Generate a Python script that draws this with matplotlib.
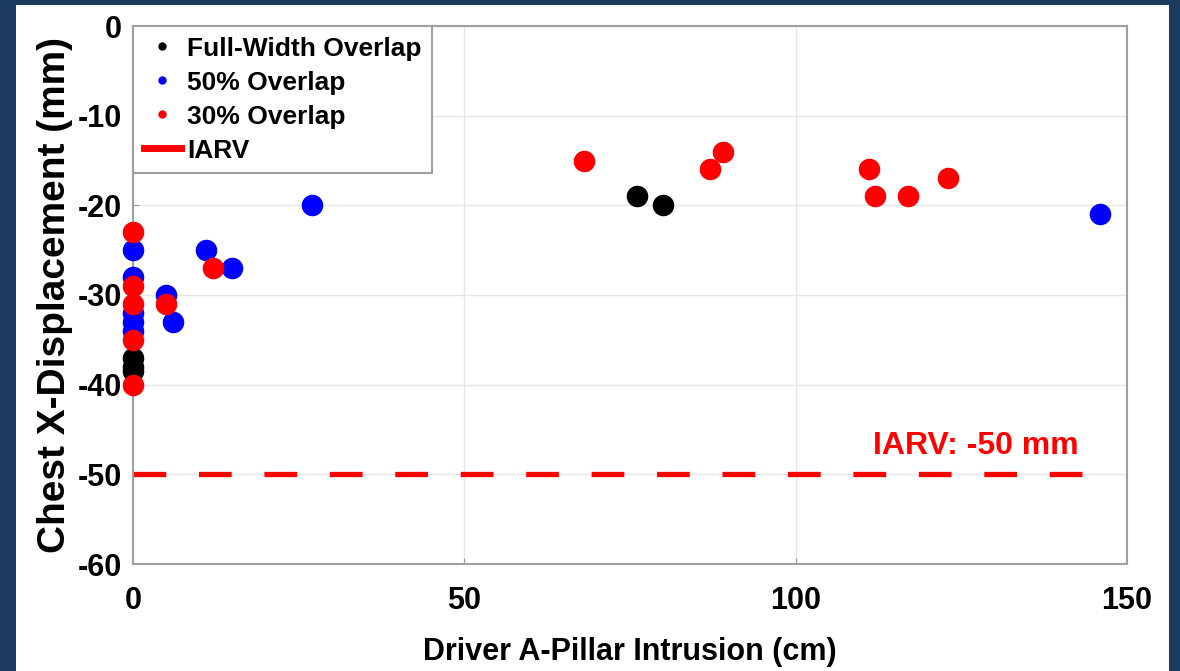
import matplotlib.pyplot as plt
from matplotlib.lines import Line2D
from matplotlib.patches import Rectangle

plt.rcParams['font.family'] = ['Liberation Sans', 'DejaVu Sans']
plt.rcParams['font.weight'] = 'bold'
plt.rcParams['axes.unicode_minus'] = False

# data
full_x = [0, 0, 0, 76, 80]
full_y = [-37, -38, -38.5, -19, -20]

half_x = [0, 0, 0, 0, 0, 5, 6, 11, 15, 27, 146]
half_y = [-25, -28, -32, -33, -34, -30, -33, -25, -27, -20, -21]

thirty_x = [0, 0, 0, 0, 0, 5, 12, 68, 87, 89, 111, 112, 117, 123]
thirty_y = [-23, -29, -31, -35, -40, -31, -27, -15, -16, -14, -16, -19, -19, -17]

iarv = -50
iarv_x = [0, 146]

fig = plt.figure(figsize=(11.8, 6.71), dpi=100)
fig.patch.set_facecolor('#1c3b5e')
# white panel behind the axes
fig.patches.append(Rectangle((16/1180, 0), (1169-16)/1180, 1-5/671,
                             transform=fig.transFigure, facecolor='white',
                             edgecolor='none', zorder=-5))

ax = fig.add_axes([133/1180, 1-564/671, (1127-133)/1180, (564-26)/671])

ax.plot(full_x, full_y, 'o', color='black', ms=14.5, zorder=3, clip_on=False)
ax.plot(half_x, half_y, 'o', color='#0000ff', ms=14.5, zorder=3, clip_on=False)
ax.plot(thirty_x, thirty_y, 'o', color='#ff0000', ms=14.5, zorder=3, clip_on=False)
ax.plot(iarv_x, [iarv, iarv], color='#ff0000', lw=3.8, dashes=(6.2, 6.2), zorder=2)
ax.text(127.2, iarv + 3.2, 'IARV: -50 mm', color='#ff0000', fontsize=23,
        fontweight='bold', ha='center', va='center')

ax.set_xlim(0, 150)
ax.set_ylim(-60, 0)
ax.set_xticks([0, 50, 100, 150])
ax.set_yticks(range(-60, 1, 10))
ax.grid(True, color='#e6e6e6', lw=1)
ax.set_axisbelow(True)
ax.tick_params(direction='in', labelsize=22, length=4, color='#999999')
ax.tick_params(axis='x', pad=16)
ax.tick_params(axis='y', pad=8)
for s in ax.spines.values():
    s.set_color('#a0a0a0')
    s.set_linewidth(1.5)

ax.set_xlabel('Driver A-Pillar Intrusion (cm)', fontsize=22, fontweight='bold', labelpad=15)
ax.set_ylabel('Chest X-Displacement (mm)', fontsize=28, fontweight='bold', labelpad=3)

handles = [
    Line2D([], [], marker='o', ls='none', color='black', ms=5),
    Line2D([], [], marker='o', ls='none', color='#0000ff', ms=5),
    Line2D([], [], marker='o', ls='none', color='#ff0000', ms=5),
    Line2D([], [], color='#ff0000', lw=5),
]
labels = ['Full-Width Overlap', '50% Overlap', '30% Overlap', 'IARV']
leg = ax.legend(handles, labels, loc='upper left', borderaxespad=0,
                fancybox=False, framealpha=1, edgecolor='#a0a0a0',
                handlelength=1.4, handletextpad=0.25, labelspacing=0.38,
                borderpad=0.4, prop={'weight': 'bold', 'size': 19})
leg.get_frame().set_linewidth(1.5)

fig.savefig('out.png', dpi=100, facecolor=fig.get_facecolor())
